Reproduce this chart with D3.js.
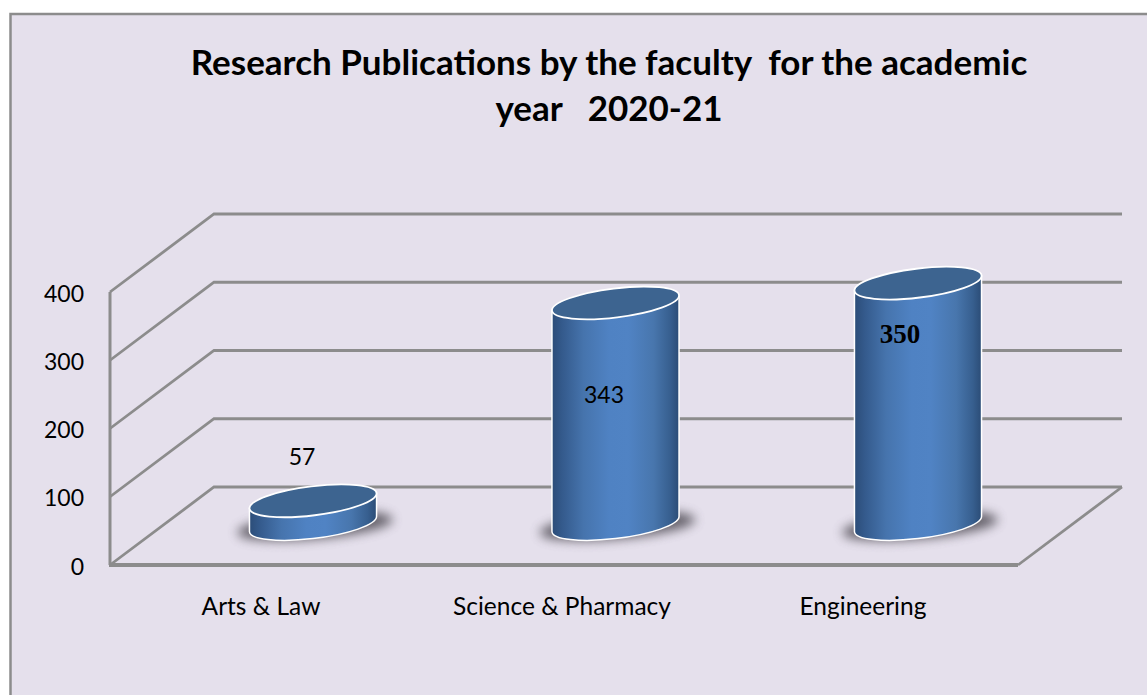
<!DOCTYPE html>
<html><head><meta charset="utf-8">
<script src="https://cdnjs.cloudflare.com/ajax/libs/d3/7.8.5/d3.min.js"></script>
<style>html,body{margin:0;padding:0;background:#fff;overflow:hidden}svg{display:block}</style>
</head><body><svg id="c" width="1147" height="695"></svg>
<script>
const categories = ["Arts & Law", "Science & Pharmacy", "Engineering"];
const dataLabels = ["57", "343", "350"];
const drawnHeights = [31, 321, 350];   // heights as drawn against the axis in the picture
const tickValues = [0, 100, 200, 300, 400];
const titleLines = ["Research Publications by the faculty  for the academic", "year   2020-21"];

const svg = d3.select("#c");
const grey = "#8c8c8c";
const W = 1147, H = 695;

svg.append("rect").attr("x", 10.5).attr("y", 14).attr("width", W + 20).attr("height", H + 20)
  .attr("fill", "#e5e0ec").attr("stroke", grey).attr("stroke-width", 2.5);

const defs = svg.append("defs");
const g = defs.append("linearGradient").attr("id", "body");
[[0, "#2c4d78"], [0.08, "#345a8c"], [0.25, "#4674ad"], [0.45, "#4f82c3"], [0.6, "#5083c4"], [0.8, "#4876ad"], [0.93, "#375f8f"], [1, "#2b4c76"]]
  .forEach(s => g.append("stop").attr("offset", s[0]).attr("stop-color", s[1]));
defs.append("filter").attr("id", "blur").attr("x", "-30%").attr("y", "-80%").attr("width", "160%").attr("height", "260%")
  .append("feGaussianBlur").attr("stdDeviation", 5.5);

// scales
const yFront = d3.scaleLinear().domain([0, 400]).range([565, 292]);
const yBack = d3.scaleLinear().domain([0, 400]).range([487, 214]);
const yBar = d3.scaleLinear().domain([0, 400]).range([522, 249]);
const xBar = d3.scalePoint().domain(categories).range([313, 918]);
const xLabel = d3.scalePoint().domain(categories).range([261, 863]);
const xFront = 110, xBack = 214, xBackEnd = 1122, xFrontEnd = 1018;

// walls and floor
const grid = svg.append("g").attr("fill", "none").attr("stroke", grey).attr("stroke-width", 2.8);
grid.selectAll("polyline.g").data(tickValues).join("polyline").attr("class", "g")
  .attr("points", d => `${xFront},${yFront(d)} ${xBack},${yBack(d)} ${xBackEnd},${yBack(d)}`);
grid.append("line").attr("x1", xFront).attr("x2", xFront).attr("y1", yFront(0)).attr("y2", yFront(400)).attr("stroke-width", 3);
grid.append("polyline").attr("points", `${xBackEnd},${yBack(0)} ${xFrontEnd},${yFront(0)}`);
grid.append("line").attr("x1", xFront - 1).attr("x2", xFrontEnd).attr("y1", yFront(0)).attr("y2", yFront(0)).attr("stroke-width", 4);

// cylinders
const rx = 64, ry = 14.5, rot = -7, th = rot * Math.PI / 180, baseDrop = 2;
const hx = Math.sqrt(rx * rx * Math.cos(th) ** 2 + ry * ry * Math.sin(th) ** 2);
const dy = (rx * rx - ry * ry) * Math.sin(-th) * Math.cos(th) / hx;

const bars = svg.selectAll("g.bar").data(categories).join("g").attr("class", "bar");
bars.append("ellipse").attr("rx", 78).attr("ry", 13)
  .attr("transform", d => `translate(${xBar(d) + 2},526) rotate(-5)`)
  .attr("fill", "#56525c").attr("opacity", 0.9).attr("filter", "url(#blur)");
bars.append("path").attr("fill", "url(#body)").attr("stroke", "#fff").attr("stroke-width", 1.5)
  .attr("d", (d, i) => {
    const c = xBar(d), t = yBar(drawnHeights[i]), b = yBar(0) + baseDrop;
    return `M${c - hx},${t + dy} L${c - hx},${b + dy} A${rx},${ry} ${rot} 0 0 ${c + hx},${b - dy} L${c + hx},${t - dy} Z`;
  });
bars.append("ellipse").attr("fill", "#3d6490").attr("stroke", "#fff").attr("stroke-width", 1.8)
  .attr("rx", rx).attr("ry", ry)
  .attr("transform", (d, i) => `translate(${xBar(d)},${yBar(drawnHeights[i])}) rotate(${rot})`);

// y axis
const axis = svg.append("g").attr("transform", "translate(84,0)")
  .call(d3.axisLeft(yFront).tickValues(tickValues).tickSize(0).tickPadding(0));
axis.select(".domain").remove();
axis.selectAll("text").attr("font-family", "Lato").attr("font-size", 23).attr("fill", "#000").attr("dy", "0.4em");

// category labels
svg.selectAll("text.cat").data(categories).join("text").attr("class", "cat")
  .attr("x", d => xLabel(d)).attr("y", 615).attr("text-anchor", "middle")
  .attr("font-family", "Lato").attr("font-size", 24.5).attr("fill", "#000").text(d => d);

// data labels
const labelPos = [[302, 465], [604, 403], [900, 343]];
svg.selectAll("text.dl").data(dataLabels).join("text").attr("class", "dl")
  .attr("x", (d, i) => labelPos[i][0]).attr("y", (d, i) => labelPos[i][1]).attr("text-anchor", "middle")
  .attr("font-family", (d, i) => i === 2 ? "Liberation Serif" : "Lato")
  .attr("font-weight", (d, i) => i === 2 ? 700 : 400)
  .attr("font-size", (d, i) => i === 2 ? 27 : 23).attr("fill", "#000").text(d => d);

// title
svg.selectAll("text.t").data(titleLines).join("text").attr("class", "t")
  .attr("x", 609).attr("y", (d, i) => 75 + i * 46).attr("text-anchor", "middle")
  .attr("xml:space", "preserve").style("white-space", "pre")
  .attr("font-family", "Lato").attr("font-weight", 700).attr("font-size", 35).attr("fill", "#000").text(d => d);
</script></body></html>
